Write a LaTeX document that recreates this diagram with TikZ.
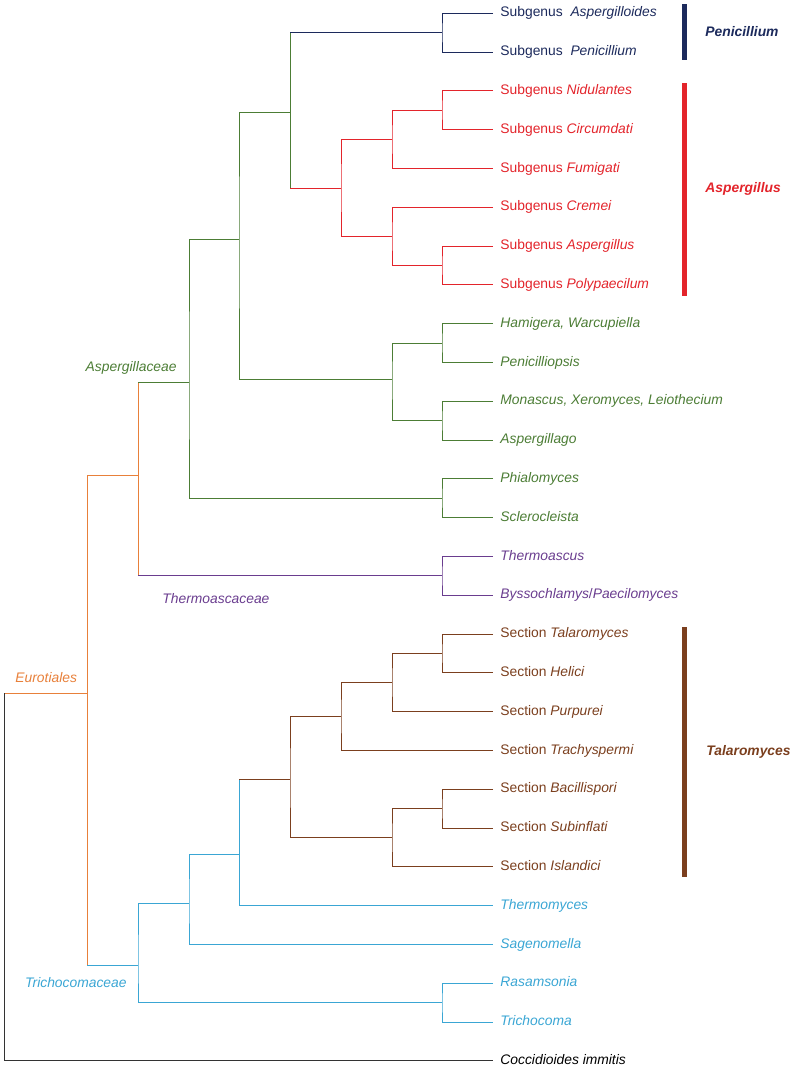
\documentclass[tikz,border=0pt]{standalone}
\usepackage{fontspec}
\setmainfont{Liberation Sans}
\usetikzlibrary{calc}

\definecolor{penblue}{HTML}{1C2A5C}
\definecolor{aspred}{HTML}{E3242B}
\definecolor{aspgreen}{HTML}{4C7D35}
\definecolor{thermpurple}{HTML}{6A3D8F}
\definecolor{talbrown}{HTML}{7B3F1E}
\definecolor{trichcyan}{HTML}{3AA6D4}
\definecolor{eurorange}{HTML}{E8803A}
\newcommand{\treefont}{\fontsize{13.85}{16}\selectfont}

\tikzset{
  leaf/.style={anchor=west, inner xsep=7pt, inner ysep=0pt, text height=0.72em, text depth=0pt},
  clade/.style={font=\treefont\itshape, inner sep=0pt},
  genus/.style={font=\treefont\bfseries\itshape, anchor=west, inner sep=0pt, text height=0.72em, text depth=0pt},
  cladebar/.style={line width=5pt},
}

\begin{document}
\begin{tikzpicture}[x=1pt, y=-1pt, line width=0.85pt, every node/.style={font=\treefont}]
  \useasboundingbox (0,0) rectangle (793,1074);
  % leaves
  \node[leaf, text=penblue] (sAspo) at (493,13.3) {Subgenus\ \ \textit{Aspergilloides}};
  \node[leaf, text=penblue] (sPeni) at (493,52.1) {Subgenus\ \ \textit{Penicillium}};
  \node[leaf, text=aspred] (sNidu) at (493,90.9) {Subgenus \textit{Nidulantes}};
  \node[leaf, text=aspred] (sCirc) at (493,129.7) {Subgenus \textit{Circumdati}};
  \node[leaf, text=aspred] (sFumi) at (493,168.5) {Subgenus \textit{Fumigati}};
  \node[leaf, text=aspred] (sCrem) at (493,207.3) {Subgenus \textit{Cremei}};
  \node[leaf, text=aspred] (sAspe) at (493,246.1) {Subgenus \textit{Aspergillus}};
  \node[leaf, text=aspred] (sPoly) at (493,284.9) {Subgenus \textit{Polypaecilum}};
  \node[leaf, text=aspgreen] (gHami) at (493,323.7) {\textit{Hamigera, Warcupiella}};
  \node[leaf, text=aspgreen] (gPops) at (493,362.5) {\textit{Penicilliopsis}};
  \node[leaf, text=aspgreen] (gMona) at (493,401.3) {\textit{Monascus, Xeromyces, Leiothecium}};
  \node[leaf, text=aspgreen] (gAspl) at (493,440.1) {\textit{Aspergillago}};
  \node[leaf, text=aspgreen] (gPhia) at (493,478.9) {\textit{Phialomyces}};
  \node[leaf, text=aspgreen] (gScle) at (493,517.7) {\textit{Sclerocleista}};
  \node[leaf, text=thermpurple] (gThas) at (493,556.5) {\textit{Thermoascus}};
  \node[leaf, text=thermpurple] (gByss) at (493,595.3) {\textit{Byssochlamys}/\textit{Paecilomyces}};
  \node[leaf, text=talbrown] (cTala) at (493,634.1) {Section \textit{Talaromyces}};
  \node[leaf, text=talbrown] (cHeli) at (493,672.9) {Section \textit{Helici}};
  \node[leaf, text=talbrown] (cPurp) at (493,711.7) {Section \textit{Purpurei}};
  \node[leaf, text=talbrown] (cTrac) at (493,750.5) {Section \textit{Trachyspermi}};
  \node[leaf, text=talbrown] (cBaci) at (493,789.3) {Section \textit{Bacillispori}};
  \node[leaf, text=talbrown] (cSubi) at (493,828.1) {Section \textit{Subinflati}};
  \node[leaf, text=talbrown] (cIsla) at (493,866.9) {Section \textit{Islandici}};
  \node[leaf, text=trichcyan] (gThmy) at (493,905.7) {\textit{Thermomyces}};
  \node[leaf, text=trichcyan] (gSage) at (493,944.5) {\textit{Sagenomella}};
  \node[leaf, text=trichcyan] (gRasa) at (493,983.3) {\textit{Rasamsonia}};
  \node[leaf, text=trichcyan] (gTric) at (493,1022.1) {\textit{Trichocoma}};
  \node[leaf] (gCocc) at (493,1060.9) {\textit{Coccidioides immitis}};
  % inner nodes
  \coordinate (pen) at (442,32.7);
  \coordinate (nc) at (442,110.3);
  \coordinate (ap) at (442,265.5);
  \coordinate (hp) at (442,343.1);
  \coordinate (ma) at (442,420.7);
  \coordinate (ps) at (442,498.3);
  \coordinate (tb) at (442,575.9);
  \coordinate (th) at (442,653.5);
  \coordinate (bs) at (442,808.7);
  \coordinate (rt) at (442,1002.7);
  \coordinate (ncf) at (392,139.4);
  \coordinate (cap) at (392,236.4);
  \coordinate (hpma) at (392,379);
  \coordinate (thp) at (392,682.6);
  \coordinate (bsi) at (392,837.8);
  \coordinate (asp) at (341,188);
  \coordinate (thpt) at (341,716.5);
  \coordinate (penasp) at (290,112);
  \coordinate (tal) at (290,779);
  \coordinate (core) at (239,239);
  \coordinate (taltm) at (239,854);
  \coordinate (aspc) at (189,382);
  \coordinate (talsg) at (189,903);
  \coordinate (asth) at (138,475);
  \coordinate (trich) at (138,965);
  \coordinate (euro) at (87,693);
  \coordinate (root) at (4,877);
  % Penicillium
  \draw[penblue] (sAspo.west) -| (pen) |- (sPeni.west);
  % Aspergillus
  \draw[aspred] (sNidu.west) -| (nc) |- (sCirc.west);
  \draw[aspred] (nc) -| (ncf) |- (sFumi.west);
  \draw[aspred] (sAspe.west) -| (ap) |- (sPoly.west);
  \draw[aspred] (sCrem.west) -| (cap) |- (ap);
  \draw[aspred] (ncf) -| (asp) |- (cap);
  % rest of Aspergillaceae
  \draw[aspgreen] (gHami.west) -| (hp) |- (gPops.west);
  \draw[aspgreen] (gMona.west) -| (ma) |- (gAspl.west);
  \draw[aspgreen] (hp) -| (hpma) |- (ma);
  \draw[aspgreen] (gPhia.west) -| (ps) |- (gScle.west);
  \draw[aspgreen] (penasp |- pen) -- (penasp |- asp);
  \draw[penblue] (penasp |- pen) -- (pen);
  \draw[aspred] (penasp |- asp) -- (asp);
  \draw[aspgreen] (penasp) -| (core) |- (hpma);
  \draw[aspgreen] (core) -| (aspc) |- (ps);
  % Thermoascaceae
  \draw[thermpurple] (gThas.west) -| (tb) |- (gByss.west);
  % Talaromyces
  \draw[talbrown] (cTala.west) -| (th) |- (cHeli.west);
  \draw[talbrown] (th) -| (thp) |- (cPurp.west);
  \draw[talbrown] (thp) -| (thpt) |- (cTrac.west);
  \draw[talbrown] (cBaci.west) -| (bs) |- (cSubi.west);
  \draw[talbrown] (bs) -| (bsi) |- (cIsla.west);
  \draw[talbrown] (thpt) -| (tal) |- (bsi);
  % Trichocomaceae
  \draw[trichcyan] (taltm |- tal) -- (taltm |- gThmy);
  \draw[talbrown] (taltm |- tal) -- (tal);
  \draw[trichcyan] (taltm |- gThmy) -- (gThmy.west);
  \draw[trichcyan] (taltm) -| (talsg) |- (gSage.west);
  \draw[trichcyan] (gRasa.west) -| (rt) |- (gTric.west);
  \draw[trichcyan] (talsg) -| (trich) |- (rt);
  % Eurotiales
  \draw[eurorange] (asth |- aspc) -- (asth |- tb);
  \draw[aspgreen] (asth |- aspc) -- (aspc);
  \draw[thermpurple] (asth |- tb) -- (tb);
  \draw[eurorange] (euro |- asth) -- (euro |- trich);
  \draw[eurorange] (euro |- asth) -- (asth);
  \draw[trichcyan] (euro |- trich) -- (trich);
  \draw[eurorange] (root |- euro) -- (euro);
  \draw[black!80] (root |- euro) -- (root |- gCocc) -- (gCocc.west);
  % clade labels
  \node[clade, text=aspgreen, anchor=base east] (lAspc) at (177,371) {Aspergillaceae};
  \node[clade, text=thermpurple, anchor=base west] (lTherm) at (162,603) {Thermoascaceae};
  \node[clade, text=eurorange, anchor=base west] (lEuro) at (15,682) {Eurotiales};
  \node[clade, text=trichcyan, anchor=base east] (lTrich) at (127,987) {Trichocomaceae};
  % genus bars
  \draw[cladebar, penblue] (684.5,4) -- (684.5,60);
  \node[genus, text=penblue] (bPeni) at (705,32.5) {Penicillium};
  \draw[cladebar, aspred] (684.5,83) -- (684.5,296);
  \node[genus, text=aspred] (bAspe) at (705,189) {Aspergillus};
  \draw[cladebar, talbrown] (684.5,627) -- (684.5,877);
  \node[genus, text=talbrown] (bTala) at (706,752) {Talaromyces};
\end{tikzpicture}
\end{document}
